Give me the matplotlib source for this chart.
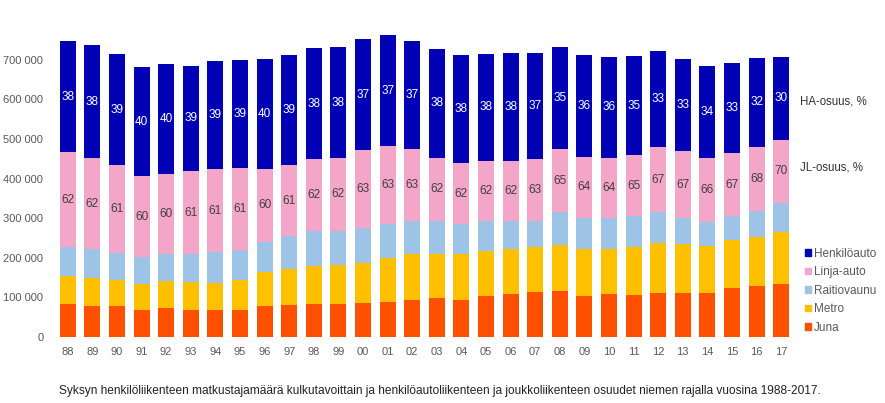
import numpy as np
import matplotlib
matplotlib.use("Agg")
import matplotlib.pyplot as plt
from matplotlib.ticker import FuncFormatter
from matplotlib.patches import Patch

plt.rcParams['font.family'] = ['Liberation Sans', 'DejaVu Sans']

years = ["88", "89", "90", "91", "92", "93", "94", "95", "96", "97",
         "98", "99", "00", "01", "02", "03", "04", "05", "06", "07",
         "08", "09", "10", "11", "12", "13", "14", "15", "16", "17"]

# thousands of passengers
juna = [83, 79, 77, 69, 72, 69, 67, 69, 79, 82,
        84, 83, 87, 89, 93, 98, 94, 103, 108, 114,
        116, 104, 109, 107, 112, 112, 112, 123, 128, 135]
metro = [70, 70, 67, 65, 70, 70, 70, 75, 85, 90,
         96, 99, 101, 110, 116, 111, 115, 114, 115, 112,
         115, 119, 114, 121, 125, 123, 118, 121, 124, 130]
raitio = [74, 73, 68, 67, 67, 70, 78, 75, 77, 82,
          87, 86, 88, 87, 85, 85, 76, 76, 71, 68,
          84, 78, 78, 77, 78, 65, 60, 61, 66, 73]
linja = [239, 230, 221, 205, 203, 210, 208, 208, 182, 180,
         182, 184, 195, 195, 180, 159, 153, 152, 151, 155,
         159, 154, 152, 154, 165, 169, 162, 159, 162, 160]
henkilo = [281, 284, 282, 276, 276, 266, 274, 273, 279, 277,
           280, 279, 281, 282, 273, 275, 273, 269, 271, 267,
           257, 256, 255, 250, 241, 233, 233, 227, 224, 210]

jl_share = [62, 62, 61, 60, 60, 61, 61, 61, 60, 61,
            62, 62, 63, 63, 63, 62, 62, 62, 62, 63,
            65, 64, 64, 65, 67, 67, 66, 67, 68, 70]
ha_share = [38, 38, 39, 40, 40, 39, 39, 39, 40, 39,
            38, 38, 37, 37, 37, 38, 38, 38, 38, 37,
            35, 36, 36, 35, 33, 33, 34, 33, 32, 30]

series = [("Juna", juna, "#ff5000"),
          ("Metro", metro, "#ffc000"),
          ("Raitiovaunu", raitio, "#9dc3e6"),
          ("Linja-auto", linja, "#f4a6c8"),
          ("Henkilöauto", henkilo, "#0000b4")]

fig = plt.figure(figsize=(8.85, 4.03), dpi=100)
ax = fig.add_axes([53 / 885, 66 / 403, 743 / 885, 307 / 403])

x = np.arange(len(years))
bottom = np.zeros(len(years))
mids = {}
for name, vals, col in series:
    v = np.array(vals) * 1000.0
    ax.bar(x, v, 0.65, bottom=bottom, color=col, label=name, linewidth=0)
    mids[name] = bottom + v / 2
    bottom = bottom + v

for i in x:
    ax.text(i, mids["Linja-auto"][i], str(jl_share[i]), ha="center", va="center",
            fontsize=8.5, color="#404040")
    ax.text(i, mids["Henkilöauto"][i], str(ha_share[i]), ha="center", va="center",
            fontsize=8.5, color="white")

ax.set_xlim(-0.6, len(years) - 0.4)
ax.set_ylim(0, 775000)
ax.set_yticks(np.arange(0, 800000, 100000))
ax.yaxis.set_major_formatter(FuncFormatter(lambda v, p: f"{int(v):,}".replace(",", " ")))
ax.set_xticks(x)
ax.set_xticklabels(years)
ax.tick_params(length=0, labelsize=8, colors="#595959", pad=7)
for s in ax.spines.values():
    s.set_visible(False)

fig.text(800 / 885, 1 - 102 / 403, "HA-osuus, %", fontsize=8.3, color="#333333", va="center")
fig.text(800 / 885, 1 - 168 / 403, "JL-osuus, %", fontsize=8.3, color="#333333", va="center")

handles = [Patch(color=c, label=n) for n, v, c in series][::-1]
fig.legend(handles=handles, loc="upper left", bbox_to_anchor=(800 / 885, 1 - 243 / 403),
           frameon=False, fontsize=8.5, handlelength=0.5, handleheight=0.5,
           handletextpad=0.3, labelspacing=0.55, labelcolor="#595959", borderaxespad=0)

fig.text(59 / 885, 1 - 391 / 403,
         "Syksyn henkilöliikenteen matkustajamäärä kulkutavoittain ja henkilöautoliikenteen "
         "ja joukkoliikenteen osuudet niemen rajalla vuosina 1988-2017.",
         fontsize=8.55, color="#222222", va="center")

fig.savefig("out.png", dpi=100)
